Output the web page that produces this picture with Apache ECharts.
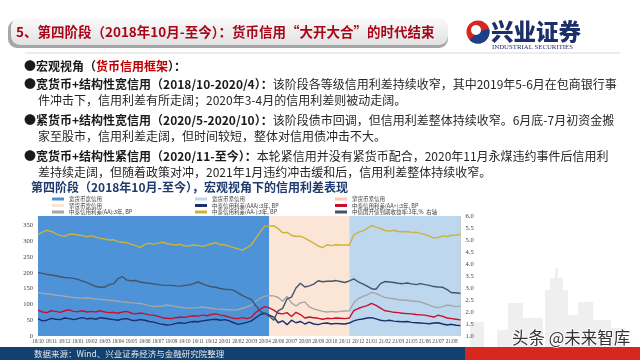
<!DOCTYPE html>
<html><head><meta charset="utf-8">
<script src="https://cdn.jsdelivr.net/npm/echarts@6/dist/echarts.min.js"></script>
<style>html,body{margin:0;padding:0;background:#fff}#c{width:640px;height:360px}</style>
</head><body><div id="c"></div>
<script>
// ---- data ----
const tickLabels = ['18/10','18/11','18/12','19/01','19/02','19/03','19/04','19/05','19/06','19/07','19/09','19/10','19/11','19/12','20/01','20/02','20/03','20/04','20/06','20/07','20/08','20/09','20/10','20/11','20/12','21/01','21/02','21/03','21/05','21/06','21/07','21/08'];
const pointsPerTick = 3;
const spreadAAA = [55,48,50,56,53,52,57,55,52,55,58,54,56,53,58,56,54,52,50,54,55,50,49,52,50,46,44,40,37,35,36,40,42,40,44,46,45,48,50,52,53,50,52,48,42,37,40,43,48,58,68,72,66,60,42,48,36,50,42,46,38,44,38,36,40,41,38,40,39,38,41,48,52,54,57,58,54,50,48,50,47,46,45,46,43,42,41,40,39,41,42,38,35,37,34,33];
const spreadAAplus = [82,76,74,80,78,75,80,83,78,77,80,76,78,76,80,76,74,75,72,76,78,72,70,73,71,67,66,62,58,56,55,58,60,59,62,64,63,66,64,68,70,66,64,60,56,55,58,55,60,75,85,93,89,82,72,70,74,62,75,68,57,60,58,56,53,56,55,57,56,55,57,80,87,92,96,103,97,88,80,78,75,74,72,71,70,68,67,66,63,60,66,62,57,55,53,51];
const spreadAA = [137,135,134,132,130,128,126,124,122,121,120,121,119,117,116,115,113,112,110,108,107,105,104,103,100,96,93,94,95,98,96,93,91,89,88,89,90,92,90,88,86,85,84,83,82,84,88,92,98,110,120,126,128,127,122,110,125,105,95,105,108,92,86,82,78,76,78,76,78,79,80,105,118,125,130,138,135,128,122,120,118,115,114,113,111,110,108,103,98,92,90,93,98,96,93,94];
const spreadAAminus = [322,329,335,331,324,318,316,322,322,320,318,314,318,313,309,307,304,305,299,297,296,290,286,280,290,294,290,294,297,293,290,288,290,285,286,288,287,283,288,292,296,289,289,284,280,276,272,280,289,310,330,348,348,349,340,327,328,319,315,316,310,302,294,285,280,289,286,289,288,288,288,320,328,333,340,350,345,341,334,332,335,331,330,331,328,329,325,322,316,310,312,317,315,319,320,322];
const cdbYield3y = [3.64,3.61,3.57,3.54,3.51,3.47,3.44,3.42,3.40,3.36,3.29,3.22,3.14,3.06,3.03,3.04,3.14,3.18,3.39,3.47,3.33,3.30,3.31,3.25,3.22,3.20,3.17,3.14,3.12,3.11,3.11,3.09,3.08,3.11,3.13,3.18,3.25,3.17,3.10,3.05,3.03,2.98,2.95,2.94,2.90,2.80,2.68,2.60,2.52,2.26,2.03,1.93,1.82,1.66,2.05,2.15,2.55,2.62,3.00,3.20,3.04,3.09,3.16,3.30,3.26,3.28,3.28,3.31,3.27,3.23,3.30,3.38,3.26,3.17,3.08,2.97,2.95,3.18,3.27,3.25,3.23,3.20,3.18,3.21,3.17,3.14,3.18,3.14,3.11,3.06,3.04,3.03,2.93,2.80,2.80,2.77];
const phaseNames = ['宽货币宽信用','紧货币宽信用','宽货币紧信用'];
const phaseStartIdx = [0,52,70];
const phaseEndIdx = [52,70,95];
const lineNames = ['中泰信用利差(AAA):3年, BP','中泰信用利差(AA+):3年, BP','中泰信用利差(AA):3年, BP','中泰信用利差(AA-):3年, BP','中债国开债到期收益率:3年,%  右轴'];
const leftTicks = {min:0, max:380, interval:50};
const rightTicks = {min:1, max:6, interval:0.5};

// ---- build ----
const categories = [];
tickLabels.forEach(l => { for (let k = 0; k < pointsPerTick; k++) categories.push(k ? l + '#' + k : l); });
const phaseColors = {'宽货币宽信用':'#4e93d7','紧货币宽信用':'#fbe5d6','宽货币紧信用':'#bdd7ee','紧货币紧信用':'#f8cbad'};
const lineColors = ['#1b2f6e','#c8102e','#a6a6a6','#cdb23a','#44546a'];
const lineData = [spreadAAA, spreadAAplus, spreadAA, spreadAAminus, cdbYield3y];
const SERIF = 'Liberation Serif';
const CJK = 'Noto Sans CJK SC';

const series = [];
phaseNames.forEach((n, i) => {
  series.push({
    name: n, type: 'line', data: [], z: 1,
    itemStyle: {color: phaseColors[n]}, lineStyle: {color: phaseColors[n]},
    markArea: {silent: true, itemStyle: {color: phaseColors[n], opacity: 1},
      data: [[{xAxis: categories[phaseStartIdx[i]]}, {xAxis: categories[phaseEndIdx[i]]}]]}
  });
});
series.push({name: '紧货币紧信用', type: 'line', data: [], itemStyle: {color: phaseColors['紧货币紧信用']}});
lineNames.forEach((n, i) => {
  series.push({
    name: n, type: 'line', data: lineData[i], yAxisIndex: i === 4 ? 1 : 0,
    showSymbol: false, symbol: 'none', z: 5,
    itemStyle: {color: lineColors[i]}, lineStyle: {color: lineColors[i], width: 1.4}
  });
});

const legendBase = {orient: 'vertical', top: 196, itemWidth: 12, itemHeight: 3, itemGap: 0.5, icon: 'rect',
  textStyle: {fontSize: 5.5, lineHeight: 6, color: '#404040', fontFamily: CJK}, padding: 0};

const bodyRich = {
  b: {fontSize: 12, fontWeight: 'bold', fill: '#1a1a1a', fontFamily: CJK},
  n: {fontSize: 12, fill: '#262626', fontFamily: CJK},
  r: {fontSize: 12, fontWeight: 'bold', fill: '#c00000', fontFamily: CJK}
};
const textLines = [
  [24, 66, '{b|●宏观视角（}{r|货币信用框架}{b|）：}'],
  [24, 84, '{b|●宽货币+结构性宽信用（2018/10-2020/4）：}{n|该阶段各等级信用利差持续收窄，其中2019年5-6月在包商银行事}'],
  [38, 100, '{n|件冲击下，信用利差有所走阔；2020年3-4月的信用利差则被动走阔。}'],
  [24, 120, '{b|●紧货币+结构性宽信用（2020/5-2020/10）：}{n|该阶段债市回调，但信用利差整体持续收窄。6月底-7月初资金搬}'],
  [38, 136, '{n|家至股市，信用利差走阔，但时间较短，整体对信用债冲击不大。}'],
  [24, 156, '{b|●宽货币+结构性紧信用（2020/11-至今）：}{n|本轮紧信用并没有紧货币配合，2020年11月永煤违约事件后信用利}'],
  [38, 172, '{n|差持续走阔，但随着政策对冲，2021年1月违约冲击缓和后，信用利差整体持续收窄。}']
];

const graphic = [
  {type: 'rect', shape: {x: 8, y: 20, width: 440, height: 28, r: 9}, style: {fill: '#a6a6a6'}, z: 1},
  {type: 'rect', shape: {x: 11, y: 18, width: 437, height: 27, r: 9},
    style: {fill: new echarts.graphic.LinearGradient(0, 0, 0, 1, [{offset: 0, color: '#fafafa'}, {offset: 1, color: '#e2e2e2'}])}, z: 2},
  {type: 'text', z: 3, style: {text: '5、第四阶段（2018年10月-至今）：货币信用“大开大合”的时代结束', x: 16, y: 32,
    verticalAlign: 'middle', fill: '#a8071a', fontSize: 13.5, fontWeight: 'bold', fontFamily: CJK}},
  // logo
  {type: 'circle', shape: {cx: 478, cy: 32, r: 11.5}, style: {fill: '#d7261e'}, z: 2},
  {type: 'sector', shape: {cx: 478, cy: 32, r: 11.5, r0: 0, startAngle: -0.3, endAngle: 2.4}, style: {fill: '#1b3f8b'}, z: 3},
  {type: 'circle', shape: {cx: 476, cy: 30, r: 5}, style: {fill: '#ffffff'}, z: 4},
  {type: 'text', z: 3, style: {text: '兴业证券', x: 491, y: 31, verticalAlign: 'middle', fill: '#1b2f6b', fontSize: 22.5, fontWeight: 900, fontFamily: CJK}},
  {type: 'text', z: 3, style: {text: 'INDUSTRIAL SECURITIES', x: 492, y: 47, verticalAlign: 'middle', fill: '#1b2f6b', fontSize: 6.8, fontFamily: SERIF}},
  {type: 'line', shape: {x1: 25, y1: 53, x2: 620, y2: 53}, style: {stroke: '#d9d9d9', lineWidth: 1}},
  // chart title
  {type: 'text', style: {text: '第四阶段（2018年10月-至今），宏观视角下的信用利差表现', x: 31, y: 187, verticalAlign: 'middle',
    fill: '#1f3a6e', fontSize: 12, fontWeight: 'bold', fontFamily: CJK}},
  // skyline
  ...[[470,322,14,25],[497,330,11,17],[508,303,15,44],[523,318,20,29],[545,290,23,57],[550,278,13,12],[555,268,3,10],[568,315,10,32],[578,302,15,45],[593,320,18,27],[611,328,14,19]]
    .map(r => ({type: 'rect', z: -1, shape: {x: r[0], y: r[1], width: r[2], height: r[3]}, style: {fill: '#efefef'}})),
  {type: 'text', z: 10, style: {text: '头条 @未来智库', x: 512, y: 338, verticalAlign: 'middle', fill: '#333333', stroke: '#ffffff', lineWidth: 1.5,
    fontSize: 16.5, fontFamily: CJK}},
  // footer
  {type: 'rect', shape: {x: 0, y: 347, width: 465, height: 13}, style: {fill: '#12406f'}},
  {type: 'rect', shape: {x: 465, y: 347, width: 175, height: 13}, style: {fill: '#d7281f'}},
  {type: 'text', style: {text: '数据来源：Wind、兴业证券经济与金融研究院整理', x: 34, y: 354, verticalAlign: 'middle', fill: '#e8e8e8', fontSize: 8.5, fontFamily: CJK}}
];
textLines.forEach(t => graphic.push({type: 'text', style: {text: t[2], x: t[0], y: t[1], verticalAlign: 'middle', rich: bodyRich, fontSize: 12, fontFamily: CJK}}));

const chart = echarts.init(document.getElementById('c'), null, {renderer: 'canvas'});
chart.setOption({
  animation: false,
  backgroundColor: '#ffffff',
  grid: {left: 38, right: 179.5, top: 216, bottom: 24},
  legend: [
    Object.assign({}, legendBase, {left: 52, data: ['宽货币宽信用','紧货币宽信用', lineNames[2]]}),
    Object.assign({}, legendBase, {left: 195, data: ['宽货币紧信用', lineNames[0], lineNames[3]]}),
    Object.assign({}, legendBase, {left: 335, data: ['紧货币紧信用', lineNames[1], lineNames[4]]})
  ],
  xAxis: {type: 'category', data: categories, boundaryGap: false,
    axisLine: {show: false}, axisTick: {show: false}, splitLine: {show: false},
    axisLabel: {interval: pointsPerTick - 1, fontSize: 5.2, color: '#404040', fontFamily: SERIF, margin: 3,
      formatter: v => v.split('#')[0]}},
  yAxis: [
    {type: 'value', min: leftTicks.min, max: leftTicks.max, interval: leftTicks.interval,
      axisLine: {show: false}, axisTick: {show: false}, splitLine: {show: false},
      axisLabel: {fontSize: 6.5, color: '#404040', fontFamily: SERIF, margin: 5, showMaxLabel: false}},
    {type: 'value', position: 'right', min: rightTicks.min, max: rightTicks.max, interval: rightTicks.interval,
      axisLine: {show: true, lineStyle: {color: '#c8c8c8', width: 1}}, axisTick: {show: false}, splitLine: {show: false},
      axisLabel: {fontSize: 6.5, color: '#404040', fontFamily: SERIF, margin: 5, formatter: v => v.toFixed(1)}}
  ],
  series: series,
  graphic: graphic
});
</script>
</body></html>
